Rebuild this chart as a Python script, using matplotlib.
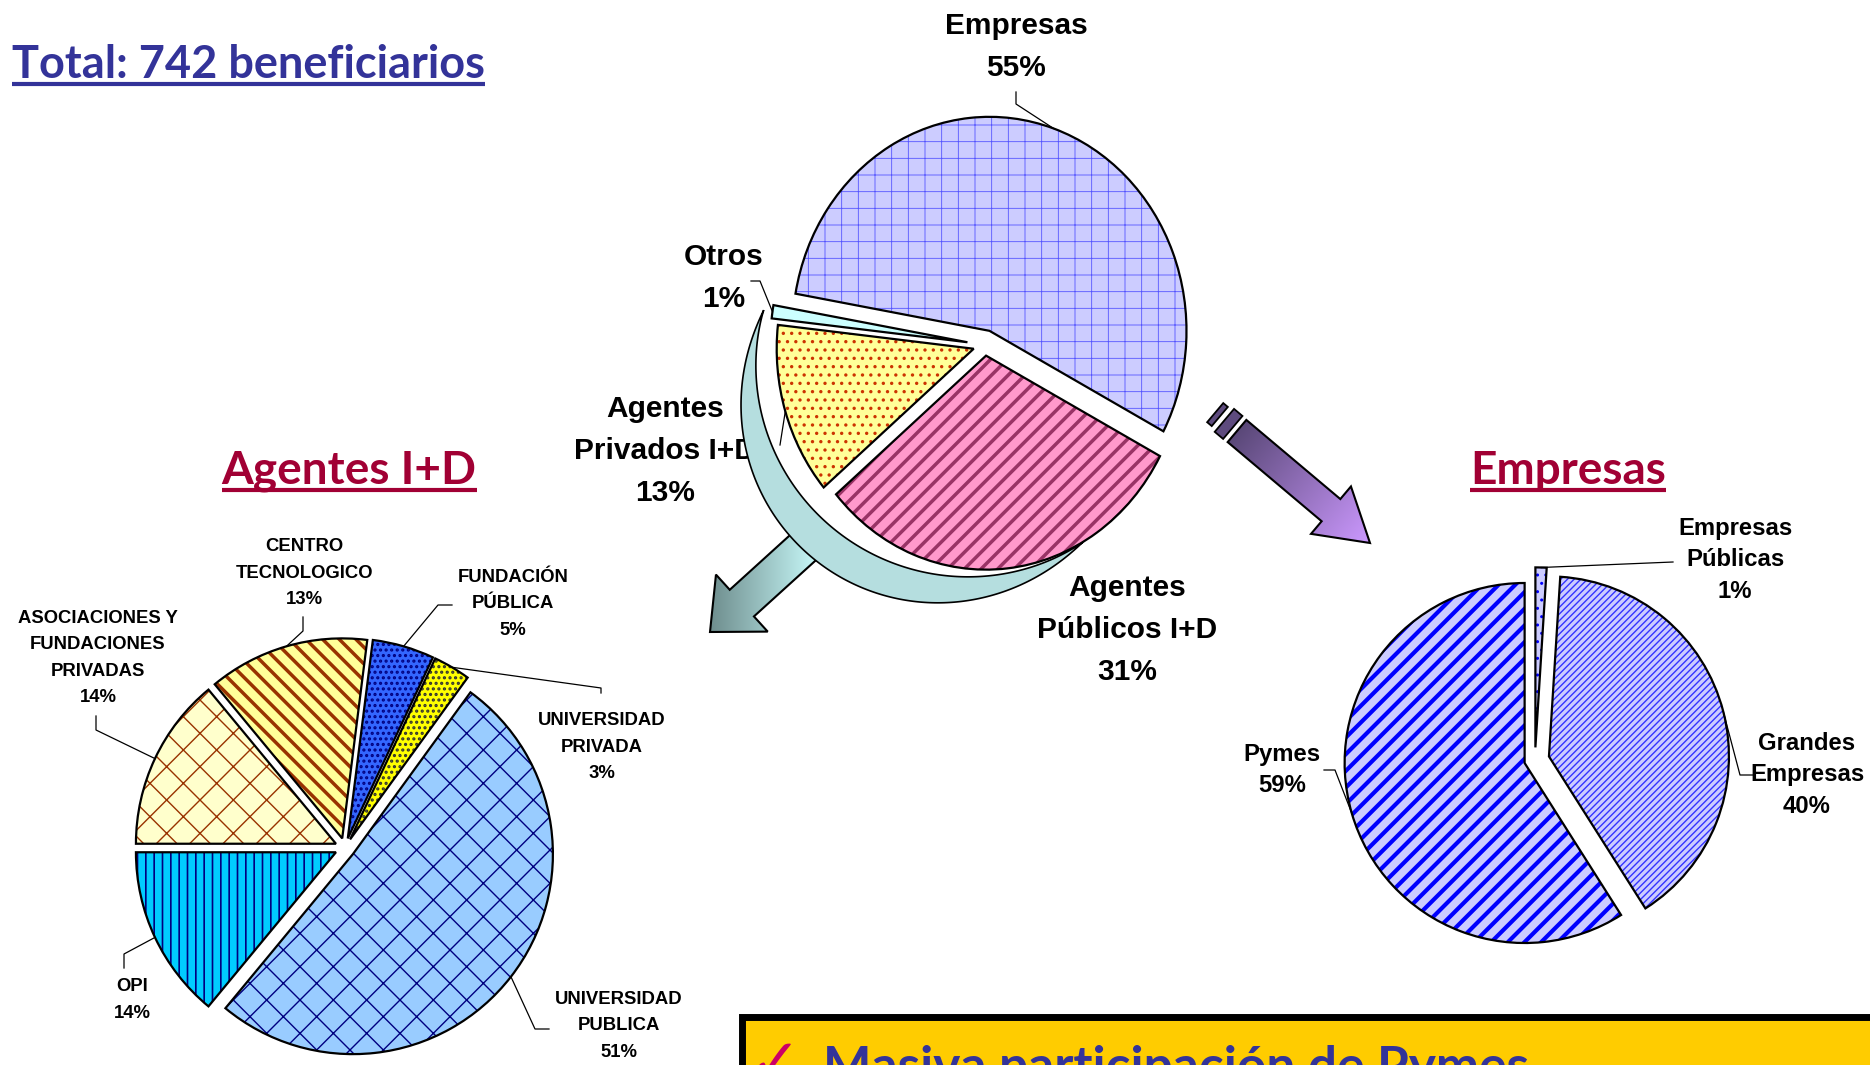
import numpy as np
import matplotlib
matplotlib.use("Agg")
import matplotlib.pyplot as plt
import matplotlib.patches as mpatches
from matplotlib.colors import to_rgb

W, H = 1870, 1065

titulo = "Total: 742 beneficiarios"
titulo_agentes = "Agentes I+D"
titulo_empresas = "Empresas"
conclusion = "Masiva participación de Pymes"

# reparto total de beneficiarios
total_cat = ["Empresas", "Agentes\nPúblicos I+D", "Agentes\nPrivados I+D", "Otros"]
total_pct = [55, 31, 13, 1]

# desglose agentes I+D
agentes_cat = ["UNIVERSIDAD\nPUBLICA", "OPI", "ASOCIACIONES Y\nFUNDACIONES\nPRIVADAS",
               "CENTRO\nTECNOLOGICO", "FUNDACIÓN\nPÚBLICA", "UNIVERSIDAD\nPRIVADA"]
agentes_pct = [51, 14, 14, 13, 5, 3]

# desglose empresas
empresas_cat = ["Empresas\nPúblicas", "Grandes\nEmpresas", "Pymes"]
empresas_pct = [1, 40, 59]

LBL = "Liberation Sans"
HEAD = ["Lato", "DejaVu Sans"]
L = 1.3

fig = plt.figure(figsize=(W / 100, H / 100), dpi=100)
fig.patch.set_facecolor("white")

# capa superior en pixeles (y hacia abajo)
ax0 = fig.add_axes([0, 0, 1, 1], zorder=10)
ax0.set_xlim(0, W)
ax0.set_ylim(H, 0)
ax0.axis("off")
ax0.patch.set_visible(False)


def draw_pie(vals, labels, cx, cy, rx, ry, start, explode, faces, hcols, hatches, hlw,
             lpos, leaders, fs, ls):
    pax = fig.add_axes([(cx - L * rx) / W, (H - cy - L * ry) / H, 2 * L * rx / W, 2 * L * ry / H],
                       zorder=2)
    wedges, _ = pax.pie(vals, startangle=start, counterclock=False, explode=explode,
                        colors=faces, wedgeprops=dict(linewidth=0))
    pax.set_aspect("auto")
    pax.set_xlim(-L, L)
    pax.set_ylim(-L, L)
    pax.axis("off")
    for w, hc, ht, lw in zip(wedges, hcols, hatches, hlw):
        w.set_edgecolor(hc)
        w.set_hatch(ht)
        if hasattr(w, "set_hatch_linewidth"):
            w.set_hatch_linewidth(lw)
        pax.add_patch(mpatches.Wedge(w.center, w.r, w.theta1, w.theta2,
                                     fill=False, ec="black", lw=1.6))
    for w, pct, lab, pos, ld in zip(wedges, vals, labels, lpos, leaders):
        ax0.text(pos[0], pos[1], f"{lab}\n{pct}%", ha="center", va="center", fontsize=fs,
                 fontweight="bold", family=LBL, linespacing=ls, zorder=3)
        if ld is None:
            continue
        a = np.deg2rad((w.theta1 + w.theta2) / 2)
        p = (w.center[0] + w.r * np.cos(a), w.center[1] + w.r * np.sin(a))
        q = ax0.transData.inverted().transform(pax.transData.transform(p))
        pts = list(ld) + [q]
        ax0.plot([t[0] for t in pts], [t[1] for t in pts], color="black", lw=0.9, zorder=3)
    return pax


# pie central
draw_pie(total_pct, total_cat, 985, 345, 197, 214, 170, [0.07, 0.05, 0.06, 0.09],
         ["#ccccff", "#ff99cc", "#ffff99", "#ccffff"],
         ["#5555ff", "#993366", "#cc3300", "#ccffff"],
         ["+", "//", "..", ""], [0.6, 2.5, 1.2, 1.0],
         [(1016, 47), (1127, 630), (665, 451), (724, 278)],
         [[(1016, 92), (1016, 104)], None, [(780, 445)], [(751, 281), (760, 281)]],
         21.5, 1.65)

# pie agentes I+D
draw_pie(agentes_pct, agentes_cat, 345, 848, 200, 200, 54, [0.05] * 6,
         ["#99ccff", "#00ccff", "#ffffcc", "#ffff99", "#3366ff", "#ffff00"],
         ["#000080", "#000080", "#993300", "#993300", "#000080", "#333333"],
         ["x", "||", "x", "\\\\", "...", "..."], [1.0, 1.2, 1.0, 2.5, 1.5, 1.5],
         [(619, 1026), (132, 1000), (98, 658), (304, 573), (513, 604), (602, 747)],
         [[(549, 1029), (535, 1029)], [(124, 968), (124, 954)], [(96, 716), (96, 730)],
          [(303, 617), (303, 631)], [(452, 605), (438, 605)], [(601, 693), (601, 688)]],
         13.3, 1.72)

# pie empresas
draw_pie(empresas_pct, empresas_cat, 1535, 760, 180, 180, 90, [0.07, 0.08, 0.06],
         ["#ccccff", "#ccccff", "#ccccff"],
         ["#0000ff", "#3333ff", "#0000ff"],
         ["..", "/////", "//"], [1.0, 1.0, 3.0],
         [(1735, 560), (1807, 775), (1282, 770)],
         [[(1673, 562)], [(1753, 775), (1740, 775)], [(1324, 770), (1335, 770)]],
         17.2, 1.45)


def gradient_poly(verts, color_fn, z):
    x0, y0 = verts.min(0)
    x1, y1 = verts.max(0)
    xs = np.linspace(x0, x1, int(x1 - x0) + 2)
    ys = np.linspace(y0, y1, int(y1 - y0) + 2)
    X, Y = np.meshgrid(xs, ys)
    img = color_fn(X, Y)
    im = ax0.imshow(img, extent=(x0, x1, y1, y0), origin="upper", aspect="auto",
                    interpolation="bilinear", zorder=z)
    im.set_clip_path(mpatches.Polygon(verts, closed=True, transform=ax0.transData))
    ax0.add_patch(mpatches.Polygon(verts, closed=True, fill=False, ec="black", lw=1.5, zorder=z + 0.1))


def mix(c0, c1, g):
    c0, c1 = np.array(to_rgb(c0)), np.array(to_rgb(c1))
    g = np.clip(g, 0, 1)[..., None]
    return c0 * (1 - g) + c1 * g


# flecha morada hacia empresas
tail, tip = np.array([1237.0, 431.0]), np.array([1370.0, 543.0])
u = (tip - tail) / np.linalg.norm(tip - tail)
nrm = np.array([-u[1], u[0]])
arr = mpatches.FancyArrow(tail[0], tail[1], *(tip - tail), width=29, head_width=62,
                          head_length=51, length_includes_head=True)
length = np.linalg.norm(tip - tail)
gradient_poly(arr.get_xy(), lambda X, Y: mix("#5a4878", "#cc99ff",
              ((X - tail[0]) * u[0] + (Y - tail[1]) * u[1]) / length), 4)
for dist, a, b in [(11, 11, 30), (25.5, 6, 25)]:
    c = tail - u * dist
    pts = [c + u * a / 2 + nrm * b / 2, c + u * a / 2 - nrm * b / 2,
           c - u * a / 2 - nrm * b / 2, c - u * a / 2 + nrm * b / 2]
    ax0.add_patch(mpatches.Polygon(pts, closed=True, fc="#5e4b7e", ec="black", lw=1.3, zorder=4))

# flecha verde hacia agentes
tail2, tip2 = np.array([818.0, 534.0]), np.array([710.0, 632.0])
arr2 = mpatches.FancyArrow(tail2[0], tail2[1], *(tip2 - tail2), width=36, head_width=77,
                           head_length=43, length_includes_head=True)
gradient_poly(arr2.get_xy(), lambda X, Y: mix("#6a8888", "#c6f6f6", (X - 705) / 110), 4)

# arco envolvente
th = np.linspace(192, 60, 240)
s = (192 - th) / 132
rm = 216 + 26 * np.sin(np.pi * s)
wd = 36 * np.sin(np.pi * s) ** 1.1
cxa, cya = 975, 355
outer = np.c_[cxa + (rm + wd / 2) * np.cos(np.deg2rad(th)), cya + (rm + wd / 2) * np.sin(np.deg2rad(th))]
inner = np.c_[cxa + (rm - wd / 2) * np.cos(np.deg2rad(th)), cya + (rm - wd / 2) * np.sin(np.deg2rad(th))]
ax0.add_patch(mpatches.Polygon(np.vstack([outer, inner[::-1]]), closed=True,
                               fc="#b5dedf", ec="black", lw=1.2, zorder=6))

# cuadro de conclusion
ax0.add_patch(mpatches.Rectangle((742, 1017), 1200, 120, fc="#ffcc00", ec="black", lw=5, zorder=2))
ax0.text(750, 1082, "\u2713", color="#cc0066", fontsize=44, family="DejaVu Sans", va="baseline", zorder=3)
ax0.text(823, 1083, conclusion, color="#333399", fontsize=37, fontweight="bold", family=HEAD,
         va="baseline", zorder=3)

# titulos subrayados
heads = [
    ax0.text(12, 78, titulo, color="#333399", fontsize=32.5, fontweight="bold", family=HEAD,
             va="baseline", zorder=3),
    ax0.text(349, 484, titulo_agentes, color="#a10034", fontsize=33, fontweight="bold", family=HEAD,
             ha="center", va="baseline", zorder=3),
    ax0.text(1568, 484, titulo_empresas, color="#a10034", fontsize=33, fontweight="bold", family=HEAD,
             ha="center", va="baseline", zorder=3),
]
r = fig.canvas.get_renderer()
for t in heads:
    bb = t.get_window_extent(renderer=r)
    yb = t.get_position()[1] + 6
    ax0.plot([bb.x0, bb.x1], [yb, yb], color=t.get_color(), lw=3, zorder=3,
             solid_capstyle="butt")

fig.savefig("out.png", dpi=100, facecolor="white")
